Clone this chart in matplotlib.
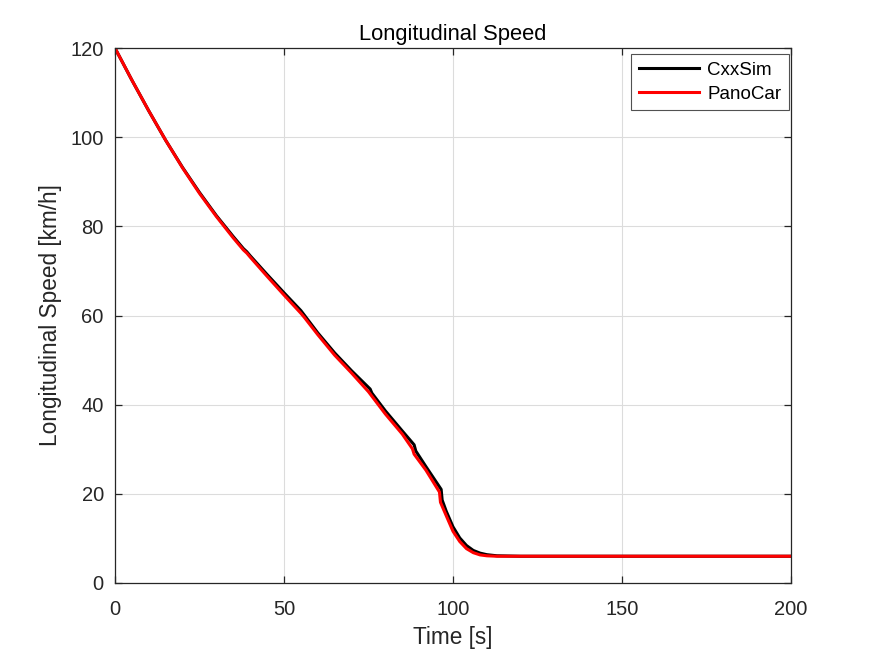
import matplotlib.pyplot as plt

plt.rcParams['font.family'] = ['Liberation Sans', 'DejaVu Sans']

# CxxSim speed trace
cxx_time = [0, 5, 10, 15, 20, 25, 30, 35, 38, 39, 40, 45, 50, 55, 56, 60, 65, 70, 75.5, 76,
            80, 85, 88.5, 89, 92, 96.5, 96.8, 98, 100, 102, 104, 106, 108, 110, 113, 120, 200]
cxx_speed = [120, 112.8, 105.9, 99.3, 93.2, 87.6, 82.4, 77.7, 75, 74.3, 73.4, 69.2, 65.1, 61.1,
             60.1, 56.1, 51.6, 47.6, 43.5, 42.6, 38.6, 34.1, 31, 29.6, 26.1, 21, 18.6, 16.1,
             12.6, 10.1, 8.4, 7.3, 6.7, 6.35, 6.1, 6, 6]

# PanoCar speed trace
pano_time = [0, 5, 10, 15, 20, 25, 30, 35, 38, 39, 40, 45, 50, 55, 56, 60, 65, 70, 75, 76,
             80, 85, 88, 88.5, 92, 96, 96.3, 98, 100, 102, 104, 106, 108, 110, 113, 120, 200]
pano_speed = [120, 112.8, 105.9, 99.3, 93.1, 87.4, 82.2, 77.4, 74.7, 74, 73.1, 68.8, 64.6, 60.5,
              59.6, 55.7, 51.1, 47.1, 42.9, 41.9, 37.9, 33.4, 30.1, 28.9, 25.3, 20.4, 18.1,
              15.1, 11.6, 9.3, 7.7, 6.8, 6.3, 6.1, 6, 6, 6]

fig = plt.figure(figsize=(8.75, 6.56), dpi=100)
ax = fig.add_axes([0.1314, 0.1113, 0.7726, 0.8155])

ax.plot(cxx_time, cxx_speed, color='black', linewidth=2.2, label='CxxSim')
ax.plot(pano_time, pano_speed, color='red', linewidth=2.2, label='PanoCar')

ax.set_xlim(0, 200)
ax.set_ylim(0, 120)
ax.set_xticks([0, 50, 100, 150, 200])
ax.set_yticks([0, 20, 40, 60, 80, 100, 120])
ax.grid(True, color='#dcdcdc', linewidth=0.8)
ax.set_axisbelow(True)

dark = '#262626'
for s in ax.spines.values():
    s.set_color(dark)
    s.set_linewidth(0.9)
ax.tick_params(direction='in', top=True, right=True, length=5, width=0.9,
               colors=dark, labelsize=14.5)
ax.tick_params(axis='x', pad=12)
ax.tick_params(axis='y', pad=8)

ax.set_xlabel('Time [s]', fontsize=16.3, color=dark, labelpad=5)
ax.set_ylabel('Longitudinal Speed [km/h]', fontsize=16.3, color=dark, labelpad=6)
ax.set_title('Longitudinal Speed', fontsize=15.8, color='black', pad=6)

leg = ax.legend(loc='upper right', fontsize=13.5, frameon=True, fancybox=False,
                bbox_to_anchor=(0.997, 0.989), borderaxespad=0, handlelength=3.2,
                handletextpad=0.45, labelspacing=0.38, borderpad=0.4)
leg.get_frame().set_edgecolor(dark)
leg.get_frame().set_linewidth(0.8)

fig.savefig('out.png', dpi=100)
